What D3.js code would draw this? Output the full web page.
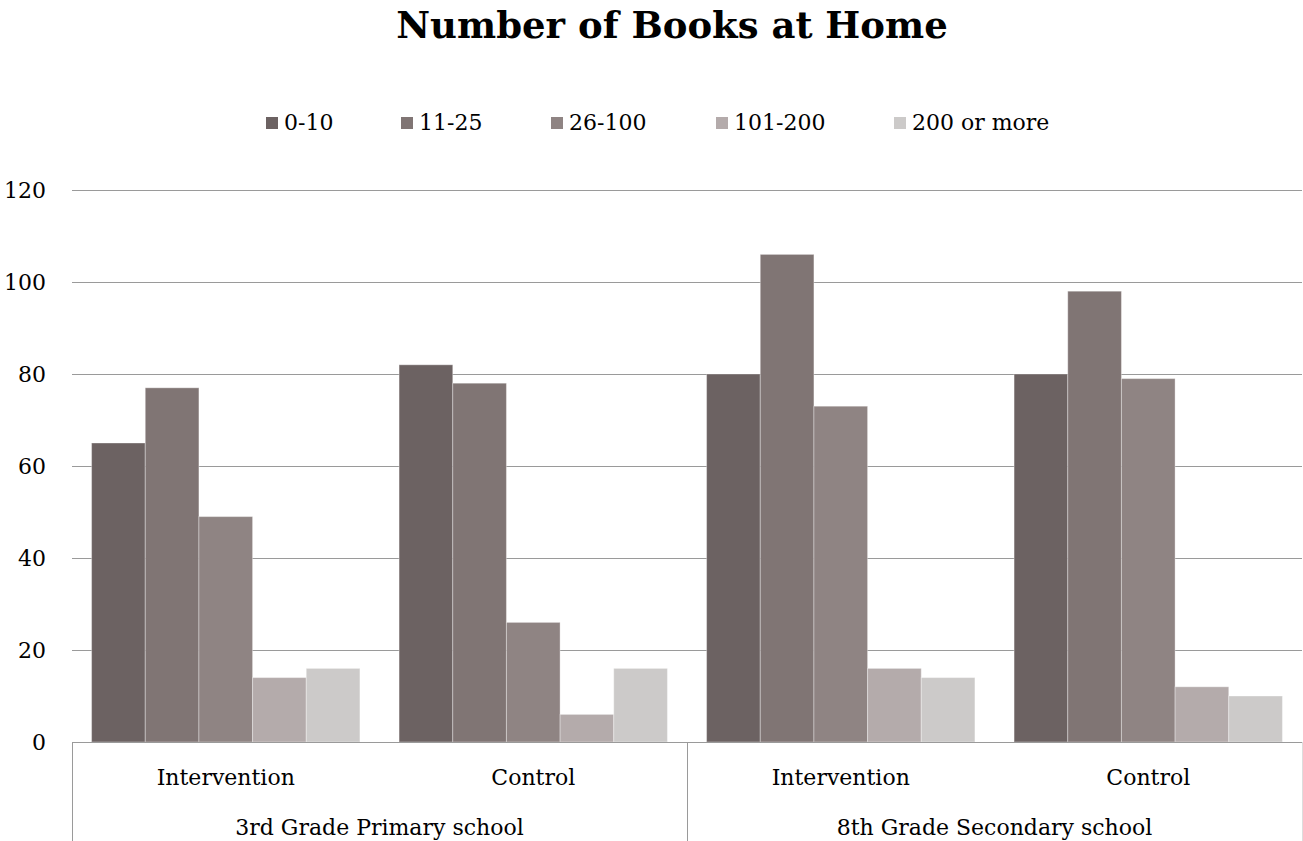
<!DOCTYPE html>
<html>
<head>
<meta charset="utf-8">
<script src="https://cdn.jsdelivr.net/npm/d3@7"></script>
<style>
  body { margin: 0; background: #fff; }
  text { font-family: "DejaVu Serif", serif; fill: #000; }
</style>
</head>
<body>
<div id="chart"></div>
<script>
var groups = ["3rd Grade Primary school", "8th Grade Secondary school"];
var categories = ["Intervention", "Control", "Intervention", "Control"];
var categoryGroup = [0, 0, 1, 1];
var series = ["0-10", "11-25", "26-100", "101-200", "200 or more"];
var colors = ["#6c6262", "#807574", "#8f8483", "#b4abab", "#cccac9"];
// values per category, in series order
var values = [
  [65, 77, 49, 14, 16],
  [82, 78, 26, 6, 16],
  [80, 106, 73, 16, 14],
  [80, 98, 79, 12, 10]
];
var yTicks = [0, 20, 40, 60, 80, 100, 120];

var width = 1303, height = 841;
var plotLeft = 72, plotRight = 1302, plotTop = 190, plotBottom = 742;

var svg = d3.select("#chart").append("svg")
  .attr("width", width)
  .attr("height", height);

var x0 = d3.scaleBand()
  .domain(d3.range(categories.length))
  .range([plotLeft, plotRight])
  .paddingInner(0);

var x1 = d3.scaleBand()
  .domain(series)
  .range([0, x0.bandwidth()])
  .paddingInner(0)
  .paddingOuter(0.365);

var y = d3.scaleLinear().domain([0, 120]).range([plotBottom, plotTop]);

// title
svg.append("text")
  .attr("x", 672).attr("y", 38)
  .attr("text-anchor", "middle")
  .style("font-size", "37px")
  .style("font-weight", "bold")
  .text("Number of Books at Home");

// legend
var legendX = [266, 401, 551, 716, 894];
var legend = svg.append("g").selectAll("g")
  .data(series).enter().append("g")
  .attr("transform", function (d, i) { return "translate(" + legendX[i] + ",117)"; });
legend.append("rect")
  .attr("width", 12).attr("height", 12)
  .attr("fill", function (d, i) { return colors[i]; });
legend.append("text")
  .attr("x", 18).attr("y", 13)
  .style("font-size", "22px")
  .text(function (d) { return d; });

// gridlines
svg.append("g").selectAll("line")
  .data(yTicks.filter(function (d) { return d > 0; })).enter().append("line")
  .attr("x1", plotLeft).attr("x2", plotRight)
  .attr("y1", function (d) { return Math.round(y(d)) + 0.5; })
  .attr("y2", function (d) { return Math.round(y(d)) + 0.5; })
  .attr("stroke", "#9a9a9a").attr("stroke-width", 1);

// y tick labels
svg.append("g").selectAll("text")
  .data(yTicks).enter().append("text")
  .attr("x", 46)
  .attr("y", function (d) { return y(d) + 8; })
  .attr("text-anchor", "end")
  .style("font-size", "22px")
  .text(function (d) { return d; });

// bars
var cat = svg.append("g").selectAll("g")
  .data(values).enter().append("g")
  .attr("transform", function (d, i) { return "translate(" + x0(i) + ",0)"; });
cat.selectAll("rect")
  .data(function (d) { return d; }).enter().append("rect")
  .attr("x", function (d, i) { return x1(series[i]); })
  .attr("width", x1.bandwidth())
  .attr("y", function (d) { return y(d); })
  .attr("height", function (d) { return plotBottom - y(d); })
  .attr("fill", function (d, i) { return colors[i]; })
  .attr("stroke", "#ffffff").attr("stroke-opacity", 0.35).attr("stroke-width", 1);

// axis lines
var axis = svg.append("g").attr("stroke", "#9a9a9a").attr("stroke-width", 1);
axis.append("line")
  .attr("x1", plotLeft).attr("x2", plotRight)
  .attr("y1", plotBottom + 0.5).attr("y2", plotBottom + 0.5);
axis.append("line")
  .attr("x1", plotLeft + 0.5).attr("x2", plotLeft + 0.5)
  .attr("y1", plotBottom).attr("y2", height);
axis.append("line")
  .attr("x1", Math.round(x0(2)) + 0.5).attr("x2", Math.round(x0(2)) + 0.5)
  .attr("y1", plotBottom).attr("y2", height);
axis.append("line")
  .attr("x1", plotRight + 0.5).attr("x2", plotRight + 0.5)
  .attr("y1", plotBottom).attr("y2", height)
  .attr("stroke", "#dddddd");

// category labels
svg.append("g").selectAll("text")
  .data(categories).enter().append("text")
  .attr("x", function (d, i) { return x0(i) + x0.bandwidth() / 2; })
  .attr("y", 785)
  .attr("text-anchor", "middle")
  .style("font-size", "22px")
  .text(function (d) { return d; });

// group labels
svg.append("g").selectAll("text")
  .data(groups).enter().append("text")
  .attr("x", function (d, g) {
    var idx = d3.range(categories.length).filter(function (i) { return categoryGroup[i] === g; });
    return (x0(idx[0]) + x0(idx[idx.length - 1]) + x0.bandwidth()) / 2;
  })
  .attr("y", 835)
  .attr("text-anchor", "middle")
  .style("font-size", "22px")
  .text(function (d) { return d; });
</script>
</body>
</html>
